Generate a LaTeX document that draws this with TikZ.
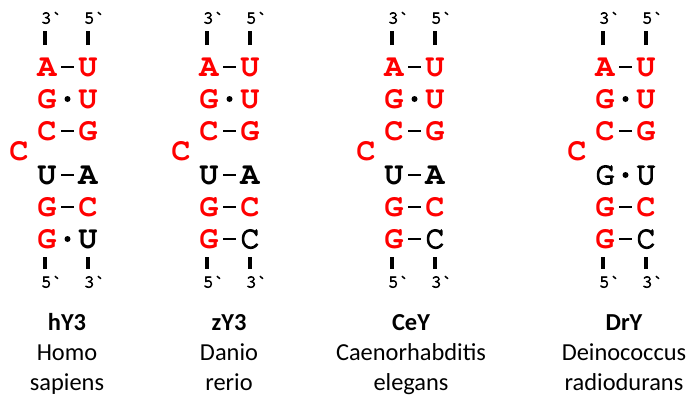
\documentclass[tikz,border=0pt]{standalone}
\usepackage{fontspec}
\setmainfont{Carlito}
\newfontfamily\basefont[Extension=.otf,UprightFont=*-regular,BoldFont=*-bold]{texgyrecursor}
\newfontfamily\basemed[Extension=.otf,UprightFont=*-regular,FakeBold=4]{texgyrecursor}
\definecolor{ntred}{RGB}{255,0,0}
\tikzset{
  ntbase/.style={inner sep=0pt, text height=18bp, text depth=0pt},
  ntR/.style={ntbase, text=ntred, font=\basefont\bfseries\fontsize{32}{32}\selectfont},
  ntK/.style={ntbase, text=black, font=\basefont\bfseries\fontsize{32}{32}\selectfont},
  ntk/.style={ntbase, text=black, font=\basemed\fontsize{32}{32}\selectfont},
  bpdash/.style={fill=black, inner sep=0pt, minimum width=13bp, minimum height=2.8bp},
  bpdot/.style={circle, fill=black, inner sep=0pt, minimum size=6bp},
  endtag/.style={font=\basemed\fontsize{18}{18}\selectfont, inner sep=0pt, anchor=base west},
  strand/.style={line width=3.2bp},
  title/.style={font=\bfseries\fontsize{24.5}{29}\selectfont, inner sep=0pt, anchor=base},
  species/.style={font=\fontsize{24.5}{29}\selectfont, inner sep=0pt, anchor=base},
}
% one stem: #1 name prefix, #2 x of the left strand, #3 base-pair rows
\newcommand\ystem[3]{%
  \begin{scope}[shift={(#2,0)}]
    \foreach \r/\yy/\ls/\lt/\lk/\rs/\rt in {#3} {
      \node[\ls] (#1-l\r) at (2,\yy) {\lt};
      \node[\rs] (#1-r\r) at (43,\yy) {\rt};
      \path (#1-l\r) -- node[\lk] (#1-k\r) {} (#1-r\r);
    }
    \node[ntR] (#1-bulge) at (-26,151) {C};
    \node[endtag] (#1-t3) at (-4.4,23.5) {3`};
    \node[endtag] (#1-t5) at (38.6,23.5) {5`};
    \node[endtag] (#1-b5) at (-4.4,287.5) {5`};
    \node[endtag] (#1-b3) at (38.6,287.5) {3`};
    \draw[strand] (#1-l1.center -| #1-t3.south west) ++(4.4,-22) -- ++(0,-14);
    \draw[strand] (#1-r1.center -| #1-t5.south west) ++(4.4,-22) -- ++(0,-14);
    \draw[strand] (#1-l6.center -| #1-b5.south west) ++(4.4,18) -- ++(0,12);
    \draw[strand] (#1-r6.center -| #1-b3.south west) ++(4.4,18) -- ++(0,12);
  \end{scope}}
\begin{document}
\begin{tikzpicture}[x=1bp,y=-1bp]
  \useasboundingbox (0,0) rectangle (692,398);

  \ystem{h}{45}{1/67/ntR/A/bpdash/ntR/U, 2/99/ntR/G/bpdot/ntR/U,
    3/131/ntR/C/bpdash/ntR/G, 4/175/ntK/U/bpdash/ntK/A,
    5/207/ntR/G/bpdash/ntR/C, 6/239/ntR/G/bpdot/ntK/U}
  \ystem{z}{207}{1/67/ntR/A/bpdash/ntR/U, 2/99/ntR/G/bpdot/ntR/U,
    3/131/ntR/C/bpdash/ntR/G, 4/175/ntK/U/bpdash/ntK/A,
    5/207/ntR/G/bpdash/ntR/C, 6/239/ntR/G/bpdash/ntk/C}
  \ystem{c}{392}{1/67/ntR/A/bpdash/ntR/U, 2/99/ntR/G/bpdot/ntR/U,
    3/131/ntR/C/bpdash/ntR/G, 4/175/ntK/U/bpdash/ntK/A,
    5/207/ntR/G/bpdash/ntR/C, 6/239/ntR/G/bpdash/ntk/C}
  \ystem{d}{603}{1/67/ntR/A/bpdash/ntR/U, 2/99/ntR/G/bpdot/ntR/U,
    3/131/ntR/C/bpdash/ntR/G, 4/175/ntk/G/bpdot/ntk/U,
    5/207/ntR/G/bpdash/ntR/C, 6/239/ntR/G/bpdash/ntk/C}

  % names under each stem
  \node[title]   (h-name) at (67,330) {hY3};
  \node[species] (h-g)    at (67,360) {Homo};
  \node[species] (h-s)    at (67,390) {sapiens};
  \node[title]   (z-name) at (229,330) {zY3};
  \node[species] (z-g)    at (229,360) {Danio};
  \node[species] (z-s)    at (229,390) {rerio};
  \node[title]   (c-name) at (411,330) {CeY};
  \node[species] (c-g)    at (411,360) {Caenorhabditis};
  \node[species] (c-s)    at (411,390) {elegans};
  \node[title]   (d-name) at (624,330) {DrY};
  \node[species] (d-g)    at (624,360) {Deinococcus};
  \node[species] (d-s)    at (624,390) {radiodurans};
\end{tikzpicture}
\end{document}
